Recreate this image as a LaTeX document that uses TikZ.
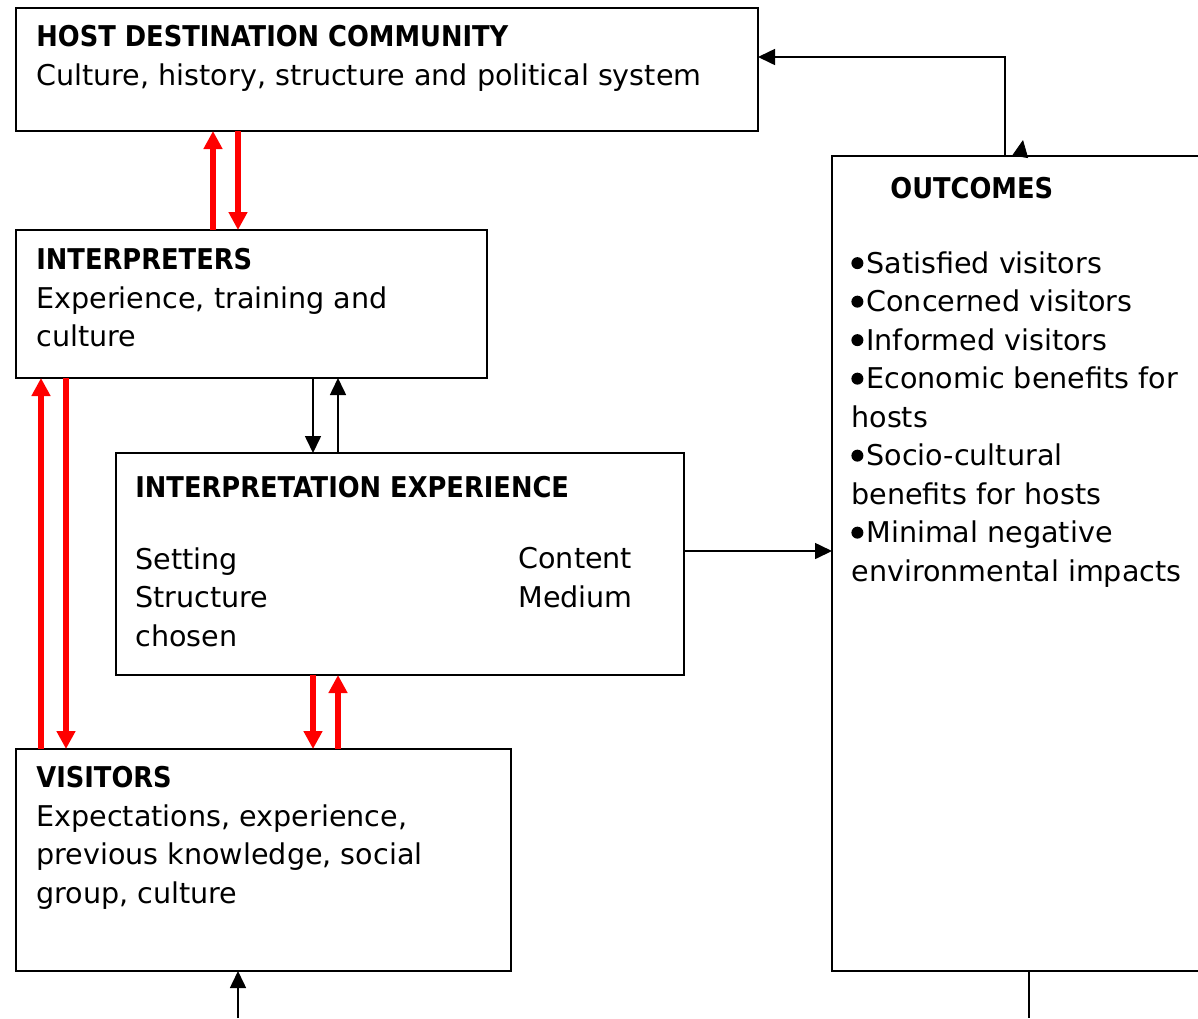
\documentclass[tikz,border=0pt]{standalone}
\usepackage{fontspec}
\setmainfont{DejaVu Sans}[BoldFont={DejaVu Sans Condensed Bold}]
\usetikzlibrary{arrows.meta}
\newcommand\bul{\makebox[7.5pt][l]{\tikz[baseline=0pt]\fill (3pt,5pt) circle (3pt);}}

\begin{document}
\begin{tikzpicture}[x=0.5pt,y=-0.5pt,
    box/.style={draw,line width=1pt,inner sep=0pt,outer sep=0pt,anchor=north west},
    txt/.style={anchor=north west,align=left,inner sep=0pt,
        font=\fontsize{14.3}{19.25}\selectfont,execute at begin node=\strut},
    redarr/.style={draw=red,line width=2.6pt,-{Triangle[width=9pt,length=9pt]}},
    blkarr/.style={draw,line width=0.8pt,-{Triangle[width=8pt,length=8.5pt]}}]
    \useasboundingbox (0,0) rectangle (1198,1018);

    \node[box,minimum width=371pt,minimum height=61.5pt] (host) at (16,8) {};
    \node[box,minimum width=235.5pt,minimum height=74pt] (interp) at (16,230) {};
    \node[box,minimum width=284pt,minimum height=111pt] (exper) at (116,453) {};
    \node[box,minimum width=247.5pt,minimum height=111pt] (visit) at (16,749) {};
    \begin{scope}
        \clip (0,0) rectangle (1198,1018);
        \node[box,minimum width=189pt,minimum height=407.5pt] (outc) at (832,156) {};
    \end{scope}

    \node[txt] (hostt) at (36,25) {\textbf{HOST DESTINATION COMMUNITY}\\Culture, history, structure and political system};
    \node[txt] (interpt) at (36,248) {\textbf{INTERPRETERS}\\Experience, training and\\culture};
    \node[txt] (expert) at (135,470) {\textbf{INTERPRETATION EXPERIENCE}};
    \node[txt] (setting) at (135,547) {Setting\\Structure\\chosen};
    \node[txt] (content) at (518,547) {Content\\Medium};
    \node[txt] (visitt) at (36,766) {\textbf{VISITORS}\\Expectations, experience,\\previous knowledge, social\\group, culture};
    \node[txt] (outct) at (890,171) {\textbf{OUTCOMES}};
    \node[txt] (outcl) at (851,251) {\bul Satisfied visitors\\\bul Concerned visitors\\\bul Informed visitors\\\bul Economic benefits for\\hosts\\\bul Socio-cultural\\benefits for hosts\\\bul Minimal negative\\environmental impacts};

    \coordinate (vin) at (238,1018);
    \coordinate (oout) at (1029,1018);

    % red links
    \draw[redarr] (213,0 |- interp.north) -- (213,0 |- host.south);
    \draw[redarr] (238,0 |- host.south) -- (238,0 |- interp.north);
    \draw[redarr] (41,0 |- visit.north) -- (41,0 |- interp.south);
    \draw[redarr] (66,0 |- interp.south) -- (66,0 |- visit.north);
    \draw[redarr] (313,0 |- exper.south) -- (313,0 |- visit.north);
    \draw[redarr] (338,0 |- visit.north) -- (338,0 |- exper.south);

    % black links
    \draw[blkarr] (313,0 |- interp.south) -- (313,0 |- exper.north);
    \draw[blkarr] (338,0 |- exper.north) -- (338,0 |- interp.south);
    \draw[blkarr] (exper.east |- 0,551) -- (outc.west |- 0,551);
    \draw[blkarr] (1005,0 |- outc.north) |- (host.east |- 0,57);
    \draw[blkarr] (vin) -- (visit.south -| vin);
    \draw[line width=0.8pt] (oout |- outc.south) -- (oout);
    \draw[-{Triangle[width=8pt,length=8.5pt]}] (1020.5,155) -- (1023,140);
\end{tikzpicture}
\end{document}
